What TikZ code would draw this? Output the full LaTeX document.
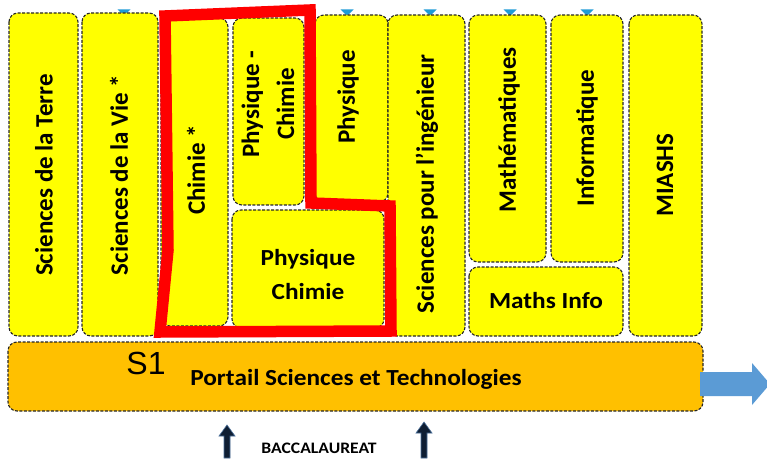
\documentclass[tikz,border=0pt]{standalone}
\usepackage{fontspec}
\setmainfont{Carlito}
\newfontfamily\widefont{Carlito}[FakeStretch=1.1]
\newfontfamily\arialf{Liberation Sans}
\usetikzlibrary{arrows.meta}
\definecolor{boxyellow}{HTML}{FFFF00}
\definecolor{portal}{HTML}{FFC000}
\definecolor{bluearr}{HTML}{5B9BD5}
\definecolor{tri}{HTML}{1E9BD7}
\definecolor{redline}{HTML}{FF0000}
\definecolor{navy}{HTML}{0F1E33}
\definecolor{navyedge}{HTML}{4A6F9A}
\begin{document}
\begin{tikzpicture}[x=1pt,y=-1pt,
 ybox/.style={draw=black!85, dash pattern=on 3pt off 1.5pt, line width=1.1pt, fill=boxyellow, rounded corners=9pt},
 vtxt/.style={rotate=90, font=\fontsize{25}{35}\selectfont\bfseries, align=center, inner sep=0pt},
 htxt/.style={font=\widefont\fontsize{23}{34}\selectfont\bfseries, align=center, inner sep=0pt},
 upar/.style={fill=navy, draw=navyedge, line width=0.6pt}]
\useasboundingbox (0,0) rectangle (767,462);
% small blue markers
\foreach \mx in {124,347,430,510,587}{
  \fill[tri] (\mx-6.5,9.5) -- (\mx+6.5,9.5) -- (\mx,16) -- cycle;
}
% boxes
\path[ybox] (9,13) rectangle (78,336);
\path[ybox] (82,13) rectangle (158,336);
\path[ybox] (161,18) rectangle (228,326);
\path[ybox] (233,18) rectangle (304,205);
\path[ybox] (315,15) rectangle (388,202);
\path[ybox] (232,210) rectangle (384,328);
\path[ybox] (388,15) rectangle (465,336);
\path[ybox] (469,15) rectangle (546,262);
\path[ybox] (551,15) rectangle (623,262);
\path[ybox] (469,267) rectangle (623,336);
\path[ybox] (629,15) rectangle (702,336);
\path[ybox, fill=portal] (8,342) rectangle (703,411);
% red outline
\draw[redline, line width=11.5pt, line join=miter] (165,16) -- (310,10) -- (311,203) -- (390,206) -- (391,331) -- (160,332) -- (168,250) -- cycle;
% blue arrow
\fill[bluearr] (700,372) -- (752,372) -- (752,363) -- (770,384) -- (752,405) -- (752,396) -- (700,396) -- cycle;
% up arrows
\filldraw[upar] (224,458) -- (224,436) -- (219,436) -- (227,425) -- (235,436) -- (230,436) -- (230,458) -- cycle;
\filldraw[upar] (421,458) -- (421,433) -- (416,433) -- (424,422) -- (432,433) -- (427,433) -- (427,458) -- cycle;
% texts
\node[vtxt] (terre) at (44,175) {Sciences de la Terre};
\node[vtxt] (vie) at (119,175) {Sciences de la Vie *};
\node[vtxt] (chimie) at (196,170) {Chimie *};
\node[vtxt] (pc) at (268,104) {Physique -\\Chimie};
\node[vtxt] (phys) at (348,97) {Physique};
\node[htxt] (pc2) at (308,275) {Physique\\Chimie};
\node[vtxt] (ing) at (427,184) {Sciences pour l’ingénieur};
\node[vtxt] (math) at (509,130) {Mathématiques};
\node[vtxt] (info) at (587,138) {Informatique};
\node[htxt] (mi) at (546,301) {Maths Info};
\node[vtxt] (miashs) at (665,175) {MIASHS};
\node[inner sep=0pt] (s1) at (146,363) {\arialf\fontsize{32}{36}\selectfont S1};
\node[htxt] (portail) at (356,379) {Portail Sciences et Technologies};
\node[font=\widefont\fontsize{16}{18}\selectfont\bfseries, inner sep=0pt] (bac) at (319,448) {BACCALAUREAT};
\end{tikzpicture}
\end{document}
